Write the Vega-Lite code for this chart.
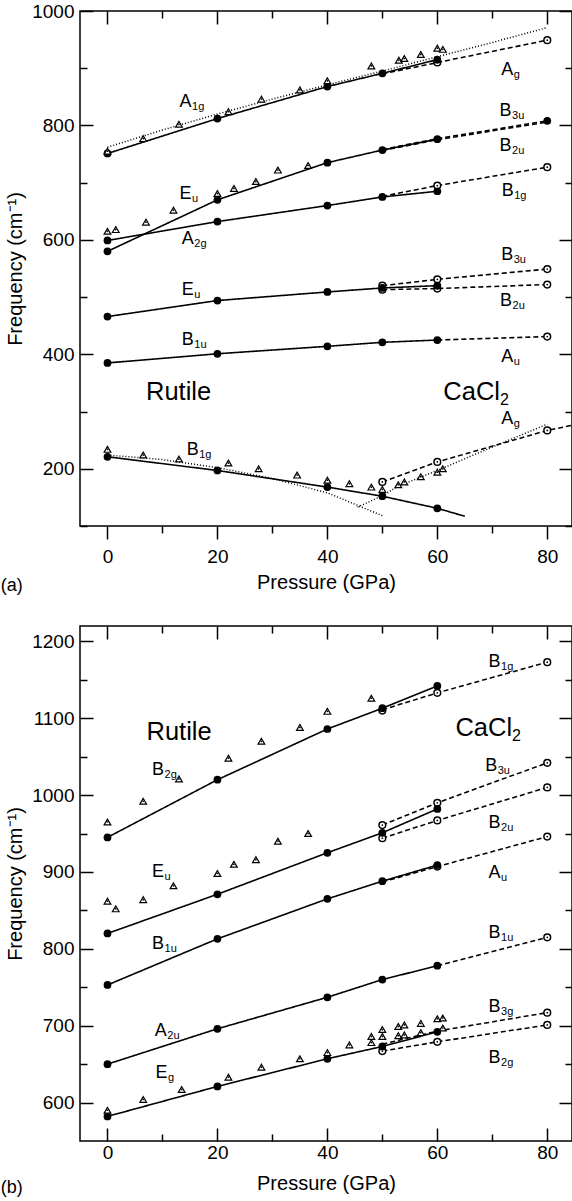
{
  "$schema": "https://vega.github.io/schema/vega-lite/v6.json",
  "padding": {"left": 0, "top": 1, "right": 0, "bottom": 0},
  "config": {
    "font": "Liberation Sans",
    "view": {"stroke": "black", "strokeWidth": 1.5},
    "axis": {"grid": false, "domain": false, "tickColor": "black", "tickWidth": 1.5, "labelColor": "black", "titleColor": "black", "labelFlush": false, "labelBound": false, "format": "d"}
  },
  "datasets": {
    "lines": [
      {"p":"a","s":"A1g","st":"solid","x":0,"y":751},{"p":"a","s":"A1g","st":"solid","x":20,"y":812},{"p":"a","s":"A1g","st":"solid","x":40,"y":868},{"p":"a","s":"A1g","st":"solid","x":50,"y":891},{"p":"a","s":"A1g","st":"solid","x":60,"y":915},
      {"p":"a","s":"Ag","st":"dashed","x":50,"y":890},{"p":"a","s":"Ag","st":"dashed","x":60,"y":910},{"p":"a","s":"Ag","st":"dashed","x":80,"y":949},
      {"p":"a","s":"A1gfit","st":"dotted","x":0,"y":762},{"p":"a","s":"A1gfit","st":"dotted","x":10,"y":792},{"p":"a","s":"A1gfit","st":"dotted","x":20,"y":820},{"p":"a","s":"A1gfit","st":"dotted","x":30,"y":846},{"p":"a","s":"A1gfit","st":"dotted","x":40,"y":871},{"p":"a","s":"A1gfit","st":"dotted","x":50,"y":895},{"p":"a","s":"A1gfit","st":"dotted","x":60,"y":920},{"p":"a","s":"A1gfit","st":"dotted","x":70,"y":945},{"p":"a","s":"A1gfit","st":"dotted","x":80,"y":971},
      {"p":"a","s":"Eu1","st":"solid","x":0,"y":580},{"p":"a","s":"Eu1","st":"solid","x":20,"y":670},{"p":"a","s":"Eu1","st":"solid","x":40,"y":735},{"p":"a","s":"Eu1","st":"solid","x":50,"y":757},{"p":"a","s":"Eu1","st":"solid","x":60,"y":776},
      {"p":"a","s":"B3u1","st":"dashed","x":50,"y":758},{"p":"a","s":"B3u1","st":"dashed","x":60,"y":777},{"p":"a","s":"B3u1","st":"dashed","x":80,"y":808},
      {"p":"a","s":"B2u1","st":"dashed","x":50,"y":756},{"p":"a","s":"B2u1","st":"dashed","x":60,"y":775},{"p":"a","s":"B2u1","st":"dashed","x":80,"y":806},
      {"p":"a","s":"A2g","st":"solid","x":0,"y":599},{"p":"a","s":"A2g","st":"solid","x":20,"y":632},{"p":"a","s":"A2g","st":"solid","x":40,"y":660},{"p":"a","s":"A2g","st":"solid","x":50,"y":675},{"p":"a","s":"A2g","st":"solid","x":60,"y":685},
      {"p":"a","s":"B1g1","st":"dashed","x":50,"y":676},{"p":"a","s":"B1g1","st":"dashed","x":60,"y":695},{"p":"a","s":"B1g1","st":"dashed","x":80,"y":727},
      {"p":"a","s":"Eu2","st":"solid","x":0,"y":466},{"p":"a","s":"Eu2","st":"solid","x":20,"y":494},{"p":"a","s":"Eu2","st":"solid","x":40,"y":509},{"p":"a","s":"Eu2","st":"solid","x":50,"y":516},{"p":"a","s":"Eu2","st":"solid","x":60,"y":520},
      {"p":"a","s":"B3u2","st":"dashed","x":50,"y":520},{"p":"a","s":"B3u2","st":"dashed","x":60,"y":531},{"p":"a","s":"B3u2","st":"dashed","x":80,"y":549},
      {"p":"a","s":"B2u2","st":"dashed","x":50,"y":513},{"p":"a","s":"B2u2","st":"dashed","x":60,"y":515},{"p":"a","s":"B2u2","st":"dashed","x":80,"y":522},
      {"p":"a","s":"B1u","st":"solid","x":0,"y":385},{"p":"a","s":"B1u","st":"solid","x":20,"y":401},{"p":"a","s":"B1u","st":"solid","x":40,"y":414},{"p":"a","s":"B1u","st":"solid","x":50,"y":421},{"p":"a","s":"B1u","st":"solid","x":60,"y":425},
      {"p":"a","s":"Au","st":"dashed","x":60,"y":425},{"p":"a","s":"Au","st":"dashed","x":80,"y":431},
      {"p":"a","s":"B1g2","st":"solid","x":0,"y":221},{"p":"a","s":"B1g2","st":"solid","x":20,"y":197},{"p":"a","s":"B1g2","st":"solid","x":40,"y":168},{"p":"a","s":"B1g2","st":"solid","x":50,"y":152},{"p":"a","s":"B1g2","st":"solid","x":60,"y":131},{"p":"a","s":"B1g2","st":"solid","x":65,"y":117},
      {"p":"a","s":"Ag2","st":"dashed","x":50,"y":177},{"p":"a","s":"Ag2","st":"dashed","x":60,"y":212},{"p":"a","s":"Ag2","st":"dashed","x":80,"y":267},{"p":"a","s":"Ag2","st":"dashed","x":84.5,"y":276},
      {"p":"a","s":"B1gfit","st":"dotted","x":0,"y":224},{"p":"a","s":"B1gfit","st":"dotted","x":10,"y":216},{"p":"a","s":"B1gfit","st":"dotted","x":20,"y":202},{"p":"a","s":"B1gfit","st":"dotted","x":30,"y":183},{"p":"a","s":"B1gfit","st":"dotted","x":40,"y":158},{"p":"a","s":"B1gfit","st":"dotted","x":50,"y":118},
      {"p":"a","s":"Agfit","st":"dotted","x":45.5,"y":133},{"p":"a","s":"Agfit","st":"dotted","x":50,"y":153},{"p":"a","s":"Agfit","st":"dotted","x":53,"y":170},{"p":"a","s":"Agfit","st":"dotted","x":60,"y":197},{"p":"a","s":"Agfit","st":"dotted","x":70,"y":238},{"p":"a","s":"Agfit","st":"dotted","x":80,"y":278},
      {"p":"b","s":"B2g","st":"solid","x":0,"y":945},{"p":"b","s":"B2g","st":"solid","x":20,"y":1020},{"p":"b","s":"B2g","st":"solid","x":40,"y":1086},{"p":"b","s":"B2g","st":"solid","x":50,"y":1113},{"p":"b","s":"B2g","st":"solid","x":60,"y":1142},
      {"p":"b","s":"B1g","st":"dashed","x":50,"y":1111},{"p":"b","s":"B1g","st":"dashed","x":60,"y":1133},{"p":"b","s":"B1g","st":"dashed","x":80,"y":1173},
      {"p":"b","s":"Eu","st":"solid","x":0,"y":820},{"p":"b","s":"Eu","st":"solid","x":20,"y":871},{"p":"b","s":"Eu","st":"solid","x":40,"y":925},{"p":"b","s":"Eu","st":"solid","x":50,"y":951},{"p":"b","s":"Eu","st":"solid","x":60,"y":982},
      {"p":"b","s":"B3u","st":"dashed","x":50,"y":961},{"p":"b","s":"B3u","st":"dashed","x":60,"y":990},{"p":"b","s":"B3u","st":"dashed","x":80,"y":1042},
      {"p":"b","s":"B2u","st":"dashed","x":50,"y":944},{"p":"b","s":"B2u","st":"dashed","x":60,"y":967},{"p":"b","s":"B2u","st":"dashed","x":80,"y":1010},
      {"p":"b","s":"B1u","st":"solid","x":0,"y":753},{"p":"b","s":"B1u","st":"solid","x":20,"y":813},{"p":"b","s":"B1u","st":"solid","x":40,"y":865},{"p":"b","s":"B1u","st":"solid","x":50,"y":888},{"p":"b","s":"B1u","st":"solid","x":60,"y":909},
      {"p":"b","s":"Au","st":"dashed","x":50,"y":887},{"p":"b","s":"Au","st":"dashed","x":60,"y":907},{"p":"b","s":"Au","st":"dashed","x":80,"y":946},
      {"p":"b","s":"A2u","st":"solid","x":0,"y":650},{"p":"b","s":"A2u","st":"solid","x":20,"y":696},{"p":"b","s":"A2u","st":"solid","x":40,"y":737},{"p":"b","s":"A2u","st":"solid","x":50,"y":760},{"p":"b","s":"A2u","st":"solid","x":60,"y":778},
      {"p":"b","s":"B1u2","st":"dashed","x":60,"y":778},{"p":"b","s":"B1u2","st":"dashed","x":80,"y":815},
      {"p":"b","s":"Eg","st":"solid","x":0,"y":582},{"p":"b","s":"Eg","st":"solid","x":20,"y":621},{"p":"b","s":"Eg","st":"solid","x":40,"y":657},{"p":"b","s":"Eg","st":"solid","x":50,"y":673},{"p":"b","s":"Eg","st":"solid","x":60,"y":692},
      {"p":"b","s":"B3g","st":"dashed","x":50,"y":676},{"p":"b","s":"B3g","st":"dashed","x":60,"y":693},{"p":"b","s":"B3g","st":"dashed","x":80,"y":717},
      {"p":"b","s":"B2g2","st":"dashed","x":50,"y":667},{"p":"b","s":"B2g2","st":"dashed","x":60,"y":679},{"p":"b","s":"B2g2","st":"dashed","x":80,"y":701}
    ],
    "points": [
      {"p":"a","t":"f","x":0,"y":751},{"p":"a","t":"f","x":20,"y":812},{"p":"a","t":"f","x":40,"y":868},{"p":"a","t":"f","x":50,"y":891},{"p":"a","t":"f","x":60,"y":915},
      {"p":"a","t":"f","x":0,"y":580},{"p":"a","t":"f","x":20,"y":670},{"p":"a","t":"f","x":40,"y":735},{"p":"a","t":"f","x":50,"y":757},{"p":"a","t":"f","x":60,"y":776},{"p":"a","t":"f","x":80,"y":808},
      {"p":"a","t":"f","x":0,"y":599},{"p":"a","t":"f","x":20,"y":632},{"p":"a","t":"f","x":40,"y":660},{"p":"a","t":"f","x":50,"y":675},{"p":"a","t":"f","x":60,"y":685},
      {"p":"a","t":"f","x":0,"y":466},{"p":"a","t":"f","x":20,"y":494},{"p":"a","t":"f","x":40,"y":509},{"p":"a","t":"f","x":50,"y":516},{"p":"a","t":"f","x":60,"y":520},
      {"p":"a","t":"f","x":0,"y":385},{"p":"a","t":"f","x":20,"y":401},{"p":"a","t":"f","x":40,"y":414},{"p":"a","t":"f","x":50,"y":421},{"p":"a","t":"f","x":60,"y":425},
      {"p":"a","t":"f","x":0,"y":221},{"p":"a","t":"f","x":20,"y":197},{"p":"a","t":"f","x":40,"y":168},{"p":"a","t":"f","x":50,"y":152},{"p":"a","t":"f","x":60,"y":131},
      {"p":"a","t":"o","x":60,"y":910},{"p":"a","t":"o","x":80,"y":949},{"p":"a","t":"o","x":60,"y":695},{"p":"a","t":"o","x":80,"y":727},
      {"p":"a","t":"o","x":50,"y":520},{"p":"a","t":"o","x":60,"y":531},{"p":"a","t":"o","x":80,"y":549},{"p":"a","t":"o","x":50,"y":513},{"p":"a","t":"o","x":60,"y":515},{"p":"a","t":"o","x":80,"y":522},
      {"p":"a","t":"o","x":80,"y":431},{"p":"a","t":"o","x":50,"y":177},{"p":"a","t":"o","x":60,"y":212},{"p":"a","t":"o","x":80,"y":267},
      {"p":"a","t":"t","x":0,"y":755},{"p":"a","t":"t","x":6.5,"y":777},{"p":"a","t":"t","x":13,"y":802},{"p":"a","t":"t","x":22,"y":824},{"p":"a","t":"t","x":28,"y":846},{"p":"a","t":"t","x":35,"y":862},{"p":"a","t":"t","x":40,"y":878},{"p":"a","t":"t","x":48,"y":904},{"p":"a","t":"t","x":53,"y":914},{"p":"a","t":"t","x":54,"y":917},{"p":"a","t":"t","x":57,"y":924},{"p":"a","t":"t","x":60,"y":935},{"p":"a","t":"t","x":61,"y":933},
      {"p":"a","t":"t","x":0,"y":615},{"p":"a","t":"t","x":1.5,"y":618},{"p":"a","t":"t","x":7,"y":631},{"p":"a","t":"t","x":12,"y":652},{"p":"a","t":"t","x":20,"y":681},{"p":"a","t":"t","x":23,"y":690},{"p":"a","t":"t","x":27,"y":702},{"p":"a","t":"t","x":31,"y":722},{"p":"a","t":"t","x":36.5,"y":730},
      {"p":"a","t":"t","x":0,"y":234},{"p":"a","t":"t","x":6.5,"y":224},{"p":"a","t":"t","x":13,"y":217},{"p":"a","t":"t","x":22,"y":210},{"p":"a","t":"t","x":27.5,"y":200},{"p":"a","t":"t","x":34.5,"y":189},{"p":"a","t":"t","x":40,"y":180},{"p":"a","t":"t","x":44,"y":174},{"p":"a","t":"t","x":48,"y":168},{"p":"a","t":"t","x":50,"y":164},{"p":"a","t":"t","x":52.9,"y":172},{"p":"a","t":"t","x":54,"y":177},{"p":"a","t":"t","x":57,"y":186},{"p":"a","t":"t","x":60,"y":194},{"p":"a","t":"t","x":61,"y":200},
      {"p":"b","t":"f","x":0,"y":945},{"p":"b","t":"f","x":20,"y":1020},{"p":"b","t":"f","x":40,"y":1086},{"p":"b","t":"f","x":50,"y":1113},{"p":"b","t":"f","x":60,"y":1142},
      {"p":"b","t":"f","x":0,"y":820},{"p":"b","t":"f","x":20,"y":871},{"p":"b","t":"f","x":40,"y":925},{"p":"b","t":"f","x":50,"y":951},{"p":"b","t":"f","x":60,"y":982},
      {"p":"b","t":"f","x":0,"y":753},{"p":"b","t":"f","x":20,"y":813},{"p":"b","t":"f","x":40,"y":865},{"p":"b","t":"f","x":50,"y":888},{"p":"b","t":"f","x":60,"y":909},
      {"p":"b","t":"f","x":0,"y":650},{"p":"b","t":"f","x":20,"y":696},{"p":"b","t":"f","x":40,"y":737},{"p":"b","t":"f","x":50,"y":760},{"p":"b","t":"f","x":60,"y":778},
      {"p":"b","t":"f","x":0,"y":582},{"p":"b","t":"f","x":20,"y":621},{"p":"b","t":"f","x":40,"y":657},{"p":"b","t":"f","x":50,"y":673},{"p":"b","t":"f","x":60,"y":692},
      {"p":"b","t":"o","x":50,"y":1110},{"p":"b","t":"o","x":60,"y":1133},{"p":"b","t":"o","x":80,"y":1173},
      {"p":"b","t":"o","x":50,"y":961},{"p":"b","t":"o","x":60,"y":990},{"p":"b","t":"o","x":80,"y":1042},
      {"p":"b","t":"o","x":50,"y":944},{"p":"b","t":"o","x":60,"y":967},{"p":"b","t":"o","x":80,"y":1010},
      {"p":"b","t":"o","x":60,"y":907},{"p":"b","t":"o","x":80,"y":946},{"p":"b","t":"o","x":80,"y":815},
      {"p":"b","t":"o","x":50,"y":667},{"p":"b","t":"o","x":60,"y":679},{"p":"b","t":"o","x":80,"y":717},{"p":"b","t":"o","x":80,"y":701},
      {"p":"b","t":"t","x":0,"y":965},{"p":"b","t":"t","x":6.5,"y":992},{"p":"b","t":"t","x":13,"y":1021},{"p":"b","t":"t","x":22,"y":1048},{"p":"b","t":"t","x":28,"y":1070},{"p":"b","t":"t","x":35,"y":1088},{"p":"b","t":"t","x":40,"y":1109},{"p":"b","t":"t","x":48,"y":1126},
      {"p":"b","t":"t","x":0,"y":862},{"p":"b","t":"t","x":1.5,"y":852},{"p":"b","t":"t","x":6.5,"y":864},{"p":"b","t":"t","x":12,"y":882},{"p":"b","t":"t","x":20,"y":898},{"p":"b","t":"t","x":23,"y":910},{"p":"b","t":"t","x":27,"y":916},{"p":"b","t":"t","x":31,"y":940},{"p":"b","t":"t","x":36.5,"y":950},
      {"p":"b","t":"t","x":0,"y":590},{"p":"b","t":"t","x":6.5,"y":604},{"p":"b","t":"t","x":13.5,"y":617},{"p":"b","t":"t","x":22,"y":633},{"p":"b","t":"t","x":28,"y":646},{"p":"b","t":"t","x":35,"y":657},{"p":"b","t":"t","x":40,"y":665},{"p":"b","t":"t","x":44,"y":675},{"p":"b","t":"t","x":48,"y":686},{"p":"b","t":"t","x":48,"y":678},{"p":"b","t":"t","x":50,"y":695},{"p":"b","t":"t","x":50,"y":686},{"p":"b","t":"t","x":52.9,"y":699},{"p":"b","t":"t","x":54,"y":701},{"p":"b","t":"t","x":52.9,"y":687},{"p":"b","t":"t","x":54,"y":688},{"p":"b","t":"t","x":57,"y":703},{"p":"b","t":"t","x":57,"y":691},{"p":"b","t":"t","x":60,"y":709},{"p":"b","t":"t","x":61,"y":710},{"p":"b","t":"t","x":61,"y":697}
    ],
    "labels": [
      {"p":"a","x":15.3,"y":833,"m":"A","sub":"1g"},{"p":"a","x":15.3,"y":672,"m":"E","sub":"u"},{"p":"a","x":15.7,"y":592,"m":"A","sub":"2g"},
      {"p":"a","x":73.5,"y":816,"m":"B","sub":"3u"},{"p":"a","x":73.5,"y":756,"m":"B","sub":"2u"},{"p":"a","x":73.9,"y":676,"m":"B","sub":"1g"},
      {"p":"a","x":73.8,"y":889,"m":"A","sub":"g"},{"p":"a","x":73.8,"y":565,"m":"B","sub":"3u"},{"p":"a","x":73.6,"y":484,"m":"B","sub":"2u"},
      {"p":"a","x":73.8,"y":387,"m":"A","sub":"u"},{"p":"a","x":73.8,"y":279,"m":"A","sub":"g"},{"p":"a","x":15.7,"y":504,"m":"E","sub":"u"},
      {"p":"a","x":15.7,"y":417,"m":"B","sub":"1u"},{"p":"a","x":16.6,"y":224,"m":"B","sub":"1g"},
      {"p":"b","x":10.3,"y":1026,"m":"B","sub":"2g"},{"p":"b","x":10.3,"y":894,"m":"E","sub":"u"},{"p":"b","x":10.3,"y":800,"m":"B","sub":"1u"},
      {"p":"b","x":10.8,"y":686,"m":"A","sub":"2u"},{"p":"b","x":10.9,"y":632,"m":"E","sub":"g"},
      {"p":"b","x":71.5,"y":1167,"m":"B","sub":"1g"},{"p":"b","x":70.9,"y":1031,"m":"B","sub":"3u"},{"p":"b","x":71.5,"y":957,"m":"B","sub":"2u"},
      {"p":"b","x":71.5,"y":892,"m":"A","sub":"u"},{"p":"b","x":71.5,"y":814,"m":"B","sub":"1u"},{"p":"b","x":71.5,"y":718,"m":"B","sub":"3g"},{"p":"b","x":71.5,"y":651,"m":"B","sub":"2g"}
    ],
    "phases": [
      {"p":"a","x":7.0,"y":320,"m":"Rutile","sub":""},{"p":"a","x":71.4,"y":320,"m":"CaCl","sub":"2"},
      {"p":"b","x":7.1,"y":1072,"m":"Rutile","sub":""},{"p":"b","x":73.6,"y":1077,"m":"CaCl","sub":"2"}
    ],
    "caps": [
      {"p":"a","x":-19.4,"y":-14,"m":"(a)"},{"p":"b","x":-19.4,"y":482,"m":"(b)"}
    ]
  },
  "spacing": 100,
  "bounds": "flush",
  "vconcat": [
    {
      "width": 492, "height": 515,
      "resolve": {"axis": {"x": "independent", "y": "independent"}},
      "layer": [
        {
          "data": {"name": "lines"},
          "transform": [{"filter": "datum.p == 'a'"}],
          "mark": {"type": "line", "color": "black", "clip": true},
          "encoding": {
            "x": {"field": "x", "type": "quantitative", "scale": {"domain": [-5, 84.5], "nice": false, "zero": false},
              "axis": {"orient": "bottom", "values": [0,20,40,60,80], "ticks": false, "labelFontSize": 19, "labelPadding": 21, "title": "Pressure (GPa)", "titleFontSize": 20, "titleFontWeight": "normal", "titlePadding": 6}},
            "y": {"field": "y", "type": "quantitative", "scale": {"domain": [100, 1000], "nice": false, "zero": false},
              "axis": {"orient": "left", "values": [200,400,600,800,1000], "ticks": false, "labelFontSize": 19, "labelPadding": 6, "title": "Frequency (cm⁻¹)", "titleFontSize": 20, "titleFontWeight": "normal", "titlePadding": 6}},
            "detail": {"field": "s"},
            "strokeDash": {"field": "st", "type": "nominal", "scale": {"domain": ["solid","dashed","dotted"], "range": [[1,0],[5,3],[1,2]]}, "legend": null},
            "strokeWidth": {"field": "st", "type": "nominal", "scale": {"domain": ["solid","dashed","dotted"], "range": [1.6,1.5,1]}, "legend": null}
          }
        },
        {
          "data": {"name": "points"},
          "transform": [{"filter": "datum.p == 'a' && datum.t == 'o'"}],
          "mark": {"type": "point", "shape": "circle", "fill": "white", "stroke": "black", "strokeWidth": 1.5, "opacity": 1, "size": 45},
          "encoding": {
            "x": {"field": "x", "type": "quantitative", "axis": {"orient": "bottom", "values": [0,20,40,60,80], "labels": false, "title": null, "tickSize": 13}},
            "y": {"field": "y", "type": "quantitative", "axis": {"orient": "left", "values": [200,400,600,800,1000], "labels": false, "title": null, "tickSize": -13}}
          }
        },
        {
          "data": {"name": "points"},
          "transform": [{"filter": "datum.p == 'a' && datum.t == 'f'"}],
          "mark": {"type": "circle", "color": "black", "opacity": 1, "size": 60},
          "encoding": {
            "x": {"field": "x", "type": "quantitative", "axis": {"orient": "top", "values": [0,20,40,60,80], "labels": false, "title": null, "tickSize": -13}},
            "y": {"field": "y", "type": "quantitative", "axis": {"orient": "right", "values": [200,400,600,800,1000], "labels": false, "title": null, "tickSize": -13}}
          }
        },
        {
          "data": {"name": "points"},
          "transform": [{"filter": "datum.p == 'a' && datum.t == 't'"}],
          "mark": {"type": "point", "shape": "triangle-up", "fill": "white", "stroke": "black", "strokeWidth": 1.2, "opacity": 1, "size": 45},
          "encoding": {
            "x": {"field": "x", "type": "quantitative", "axis": {"orient": "bottom", "values": [10,30,50,70], "labels": false, "title": null, "tickSize": 7}},
            "y": {"field": "y", "type": "quantitative", "axis": {"orient": "left", "values": [100,300,500,700,900], "labels": false, "title": null, "tickSize": -7}}
          }
        },
        {
          "data": {"name": "points"},
          "transform": [{"filter": "datum.p == 'a' && datum.t != 'f'"}],
          "mark": {"type": "circle", "color": "black", "opacity": 1, "size": 3},
          "encoding": {
            "x": {"field": "x", "type": "quantitative", "axis": {"orient": "top", "values": [10,30,50,70], "labels": false, "title": null, "tickSize": -7}},
            "y": {"field": "y", "type": "quantitative", "axis": {"orient": "right", "values": [100,300,500,700,900], "labels": false, "title": null, "tickSize": -7}}
          }
        },
        {
          "data": {"name": "labels"},
          "transform": [{"filter": "datum.p == 'a'"}],
          "mark": {"type": "text", "align": "right", "baseline": "alphabetic", "fontSize": 18, "color": "black"},
          "encoding": {"x": {"field": "x", "type": "quantitative", "axis": null}, "y": {"field": "y", "type": "quantitative", "axis": null}, "text": {"field": "m"}}
        },
        {
          "data": {"name": "labels"},
          "transform": [{"filter": "datum.p == 'a'"}],
          "mark": {"type": "text", "align": "left", "baseline": "alphabetic", "fontSize": 11, "dy": 3, "dx": 0.5, "color": "black"},
          "encoding": {"x": {"field": "x", "type": "quantitative", "axis": null}, "y": {"field": "y", "type": "quantitative", "axis": null}, "text": {"field": "sub"}}
        },
        {
          "data": {"name": "phases"},
          "transform": [{"filter": "datum.p == 'a' && datum.sub == ''"}],
          "mark": {"type": "text", "align": "left", "baseline": "alphabetic", "fontSize": 25.5, "color": "black"},
          "encoding": {"x": {"field": "x", "type": "quantitative", "axis": null}, "y": {"field": "y", "type": "quantitative", "axis": null}, "text": {"field": "m"}}
        },
        {
          "data": {"name": "phases"},
          "transform": [{"filter": "datum.p == 'a' && datum.sub != ''"}],
          "mark": {"type": "text", "align": "right", "baseline": "alphabetic", "fontSize": 25.5, "color": "black"},
          "encoding": {"x": {"field": "x", "type": "quantitative", "axis": null}, "y": {"field": "y", "type": "quantitative", "axis": null}, "text": {"field": "m"}}
        },
        {
          "data": {"name": "phases"},
          "transform": [{"filter": "datum.p == 'a' && datum.sub != ''"}],
          "mark": {"type": "text", "align": "left", "baseline": "alphabetic", "fontSize": 16, "dy": 5, "color": "black"},
          "encoding": {"x": {"field": "x", "type": "quantitative", "axis": null}, "y": {"field": "y", "type": "quantitative", "axis": null}, "text": {"field": "sub"}}
        },
        {
          "data": {"name": "caps"},
          "transform": [{"filter": "datum.p == 'a'"}],
          "mark": {"type": "text", "align": "left", "baseline": "alphabetic", "fontSize": 18, "color": "black"},
          "encoding": {"x": {"field": "x", "type": "quantitative", "axis": null}, "y": {"field": "y", "type": "quantitative", "axis": null}, "text": {"field": "m"}}
        }
      ]
    },
    {
      "width": 492, "height": 515,
      "resolve": {"axis": {"x": "independent", "y": "independent"}},
      "layer": [
        {
          "data": {"name": "lines"},
          "transform": [{"filter": "datum.p == 'b'"}],
          "mark": {"type": "line", "color": "black", "clip": true},
          "encoding": {
            "x": {"field": "x", "type": "quantitative", "scale": {"domain": [-5, 84.5], "nice": false, "zero": false},
              "axis": {"orient": "bottom", "values": [0,20,40,60,80], "ticks": false, "labelFontSize": 19, "labelPadding": 2, "title": "Pressure (GPa)", "titleFontSize": 20, "titleFontWeight": "normal", "titlePadding": 11}},
            "y": {"field": "y", "type": "quantitative", "scale": {"domain": [550, 1220], "nice": false, "zero": false},
              "axis": {"orient": "left", "values": [600,700,800,900,1000,1100,1200], "ticks": false, "labelFontSize": 19, "labelPadding": 6, "title": "Frequency (cm⁻¹)", "titleFontSize": 20, "titleFontWeight": "normal", "titlePadding": 6}},
            "detail": {"field": "s"},
            "strokeDash": {"field": "st", "type": "nominal", "scale": {"domain": ["solid","dashed","dotted"], "range": [[1,0],[5,3],[1,2]]}, "legend": null},
            "strokeWidth": {"field": "st", "type": "nominal", "scale": {"domain": ["solid","dashed","dotted"], "range": [1.6,1.5,1]}, "legend": null}
          }
        },
        {
          "data": {"name": "points"},
          "transform": [{"filter": "datum.p == 'b' && datum.t == 'o'"}],
          "mark": {"type": "point", "shape": "circle", "fill": "white", "stroke": "black", "strokeWidth": 1.5, "opacity": 1, "size": 45},
          "encoding": {
            "x": {"field": "x", "type": "quantitative", "axis": {"orient": "bottom", "values": [0,20,40,60,80], "labels": false, "title": null, "tickSize": -13}},
            "y": {"field": "y", "type": "quantitative", "axis": {"orient": "left", "values": [600,700,800,900,1000,1100,1200], "labels": false, "title": null, "tickSize": -13}}
          }
        },
        {
          "data": {"name": "points"},
          "transform": [{"filter": "datum.p == 'b' && datum.t == 'f'"}],
          "mark": {"type": "circle", "color": "black", "opacity": 1, "size": 60},
          "encoding": {
            "x": {"field": "x", "type": "quantitative", "axis": {"orient": "top", "values": [0,20,40,60,80], "labels": false, "title": null, "tickSize": -13}},
            "y": {"field": "y", "type": "quantitative", "axis": {"orient": "right", "values": [600,700,800,900,1000,1100,1200], "labels": false, "title": null, "tickSize": -13}}
          }
        },
        {
          "data": {"name": "points"},
          "transform": [{"filter": "datum.p == 'b' && datum.t == 't'"}],
          "mark": {"type": "point", "shape": "triangle-up", "fill": "white", "stroke": "black", "strokeWidth": 1.2, "opacity": 1, "size": 45},
          "encoding": {
            "x": {"field": "x", "type": "quantitative", "axis": {"orient": "bottom", "values": [10,30,50,70], "labels": false, "title": null, "tickSize": -7}},
            "y": {"field": "y", "type": "quantitative", "axis": {"orient": "left", "values": [650,750,850,950,1050,1150], "labels": false, "title": null, "tickSize": -7}}
          }
        },
        {
          "data": {"name": "points"},
          "transform": [{"filter": "datum.p == 'b' && datum.t != 'f'"}],
          "mark": {"type": "circle", "color": "black", "opacity": 1, "size": 3},
          "encoding": {
            "x": {"field": "x", "type": "quantitative", "axis": {"orient": "top", "values": [10,30,50,70], "labels": false, "title": null, "tickSize": -7}},
            "y": {"field": "y", "type": "quantitative", "axis": {"orient": "right", "values": [650,750,850,950,1050,1150], "labels": false, "title": null, "tickSize": -7}}
          }
        },
        {
          "data": {"name": "labels"},
          "transform": [{"filter": "datum.p == 'b'"}],
          "mark": {"type": "text", "align": "right", "baseline": "alphabetic", "fontSize": 18, "color": "black"},
          "encoding": {"x": {"field": "x", "type": "quantitative", "axis": null}, "y": {"field": "y", "type": "quantitative", "axis": null}, "text": {"field": "m"}}
        },
        {
          "data": {"name": "labels"},
          "transform": [{"filter": "datum.p == 'b'"}],
          "mark": {"type": "text", "align": "left", "baseline": "alphabetic", "fontSize": 11, "dy": 3, "dx": 0.5, "color": "black"},
          "encoding": {"x": {"field": "x", "type": "quantitative", "axis": null}, "y": {"field": "y", "type": "quantitative", "axis": null}, "text": {"field": "sub"}}
        },
        {
          "data": {"name": "phases"},
          "transform": [{"filter": "datum.p == 'b' && datum.sub == ''"}],
          "mark": {"type": "text", "align": "left", "baseline": "alphabetic", "fontSize": 25.5, "color": "black"},
          "encoding": {"x": {"field": "x", "type": "quantitative", "axis": null}, "y": {"field": "y", "type": "quantitative", "axis": null}, "text": {"field": "m"}}
        },
        {
          "data": {"name": "phases"},
          "transform": [{"filter": "datum.p == 'b' && datum.sub != ''"}],
          "mark": {"type": "text", "align": "right", "baseline": "alphabetic", "fontSize": 25.5, "color": "black"},
          "encoding": {"x": {"field": "x", "type": "quantitative", "axis": null}, "y": {"field": "y", "type": "quantitative", "axis": null}, "text": {"field": "m"}}
        },
        {
          "data": {"name": "phases"},
          "transform": [{"filter": "datum.p == 'b' && datum.sub != ''"}],
          "mark": {"type": "text", "align": "left", "baseline": "alphabetic", "fontSize": 16, "dy": 5, "color": "black"},
          "encoding": {"x": {"field": "x", "type": "quantitative", "axis": null}, "y": {"field": "y", "type": "quantitative", "axis": null}, "text": {"field": "sub"}}
        },
        {
          "data": {"name": "caps"},
          "transform": [{"filter": "datum.p == 'b'"}],
          "mark": {"type": "text", "align": "left", "baseline": "alphabetic", "fontSize": 18, "color": "black"},
          "encoding": {"x": {"field": "x", "type": "quantitative", "axis": null}, "y": {"field": "y", "type": "quantitative", "axis": null}, "text": {"field": "m"}}
        }
      ]
    }
  ]
}
